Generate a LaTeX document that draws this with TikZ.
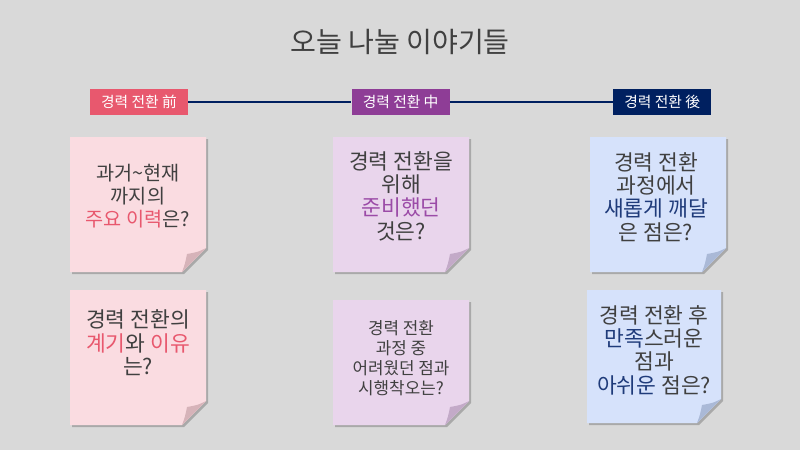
\documentclass[tikz,border=0pt]{standalone}
\usepackage{fontspec}
\setmainfont{Noto Sans CJK KR}
\usetikzlibrary{
	positioning,
	calc
}

\definecolor{canvas}{HTML}{D9D9D9}
\definecolor{ink}{HTML}{404040}
\definecolor{rose}{HTML}{E8586E}
\definecolor{plum}{HTML}{8E3D96}
\definecolor{plumtext}{HTML}{9B4BA7}
\definecolor{navy}{HTML}{002060}
\definecolor{navytext}{HTML}{1F3B7A}
\definecolor{rosepaper}{HTML}{FADCE1}
\definecolor{rosefold}{HTML}{D6B3B9}
\definecolor{plumpaper}{HTML}{E9D5EC}
\definecolor{plumfold}{HTML}{C3AAC8}
\definecolor{navypaper}{HTML}{D6E2FB}
\definecolor{navyfold}{HTML}{AAB9D7}

% sticky paper: x1, y1, x2, y2, paper colour, fold colour
\newcommand{\notepaper}[6]{%
	\fill[black, opacity=0.22] (#1+2,#2+2) -- (#3+2,#2+2) -- (#3+2,#4-22) -- (#3-22,#4+2) -- (#1+2,#4+2) -- cycle;
	\fill[#5] (#1,#2) -- (#3,#2) -- (#3,#4-24) -- (#3-24,#4) -- (#1,#4) -- cycle;
	\fill[#6] (#3,#4-24) .. controls (#3-8,#4-20) .. (#3-19,#4-18) .. controls (#3-21,#4-8) .. (#3-24,#4) -- cycle;
}

\begin{document}
\begin{tikzpicture}[
		x=0.025cm, y=-0.025cm,
		stage/.style={minimum width=2.45cm, minimum height=0.65cm, inner sep=0pt, text=white, font=\fontsize{10.5}{12}\selectfont},
		question/.style={align=center, text=ink, font=\fontsize{15.3}{16.6}\selectfont},
		timeline/.style={draw=navy, line width=1pt}
		]
		
		\fill[canvas] (0,0) rectangle (800,450);
		\useasboundingbox (0,0) rectangle (800,450);
		
		\node[text=ink, font=\fontsize{20}{24}\selectfont] (title) at (400,42) {오늘 나눌 이야기들};
		
		\node[stage, fill=rose] (before) at (139,102) {경력 전환 前};
		\node[stage, fill=plum, right=4.075cm of before] (during) {경력 전환 中};
		\node[stage, fill=navy, right=4.075cm of during] (after) {경력 전환 後};
		
		\draw[timeline] (before) -- (during);
		\draw[timeline] (during) -- (after);
		
		\notepaper{70}{137}{206}{272}{rosepaper}{rosefold}
		\notepaper{333}{137}{469}{272}{plumpaper}{plumfold}
		\notepaper{590}{137}{726}{272}{navypaper}{navyfold}
		\notepaper{70}{290}{206}{425}{rosepaper}{rosefold}
		\notepaper{333}{300}{469}{425}{plumpaper}{plumfold}
		\notepaper{587}{290}{721}{423}{navypaper}{navyfold}
		
		\node[question, font=\fontsize{14}{16.6}\selectfont] (past) at (138,196) {
			과거{\char"007E}현재\\
			까지의\\
			\textcolor{rose}{주요 이력}은?
		};
		
		\node[question] (prepare) at (401,196) {
			경력 전환을\\
			위해\\
			\textcolor{plumtext}{준비했던}\\
			것은?
		};
		
		\node[question] (learn) at (656,197) {
			경력 전환\\
			과정에서\\
			\textcolor{navytext}{새롭게 깨달}\\
			은 점은?
		};
		
		\node[question] (reason) at (138,343) {
			경력 전환의\\
			\textcolor{rose}{계기}와 \textcolor{rose}{이유}\\
			는?
		};
		
		\node[question, font=\fontsize{12}{14.2}\selectfont] (struggle) at (401,358) {
			경력 전환\\
			과정 중\\
			어려웠던 점과\\
			시행착오는?
		};
		
		\node[question] (regret) at (654,350) {
			경력 전환 후\\
			\textcolor{navytext}{만족}스러운\\
			점과\\
			\textcolor{navytext}{아쉬운} 점은?
		};
		
	\end{tikzpicture}
\end{document}
